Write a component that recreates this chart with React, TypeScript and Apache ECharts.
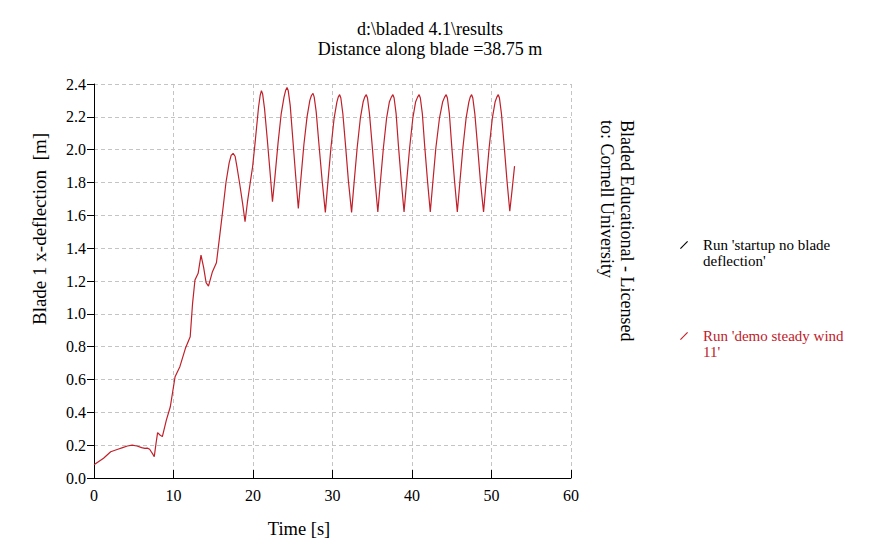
import React, { useEffect, useRef } from "react";
import * as echarts from "echarts";

const titleLines = ["d:\\bladed 4.1\\results", "Distance along blade =38.75 m"];
const xAxisName = "Time [s]";
const yAxisName = "Blade 1 x-deflection  [m]";
const licenseLines = ["Bladed Educational - Licensed", "to: Cornell University"];
const seriesNames = ["Run 'startup no blade deflection'", "Run 'demo steady wind 11'"];
const legendLabels = ["Run 'startup no blade\ndeflection'", "Run 'demo steady wind\n11'"];

const xTicks = [0, 10, 20, 30, 40, 50, 60];
const yTicks = [0, 0.2, 0.4, 0.6, 0.8, 1.0, 1.2, 1.4, 1.6, 1.8, 2.0, 2.2, 2.4];

// Run 'startup no blade deflection' — no visible trace in the reference
const startupTime: number[] = [];
const startupDefl: number[] = [];

// Run 'demo steady wind 11'
const demoTime = [
  0.0, 0.6, 1.2, 2.1, 3.0, 3.6, 4.2, 4.8, 5.4, 6.0, 6.4, 6.7, 7.0, 7.2, 7.4, 7.58,
  7.8, 8.0, 8.3, 8.6, 9.1, 9.6, 10.2, 10.8, 11.5, 12.1, 12.4, 12.7, 13.1, 13.46,
  13.8, 14.1, 14.4, 14.9, 15.4, 15.85, 16.25, 16.6, 17.0, 17.25, 17.5, 17.75, 18.0, 18.3, 18.7,
  19.0, 19.3, 19.7, 19.95, 20.3, 20.7, 20.9,
  21.06, 21.21, 21.45, 21.8, 22.15, 22.45, 22.75, 23.15, 23.55, 23.9, 24.1,
  24.28, 24.43, 24.68, 25.0, 25.35, 25.7, 26.0, 26.4, 26.8, 27.15, 27.35,
  27.55, 27.7, 27.95, 28.3, 28.7, 29.1, 29.4, 29.8, 30.2, 30.55, 30.72,
  30.9, 31.05, 31.3, 31.65, 32.0, 32.4, 32.7, 33.1, 33.5, 33.85, 34.05,
  34.25, 34.4, 34.65, 35.0, 35.35, 35.7, 36.0, 36.4, 36.8, 37.15, 37.4,
  37.6, 37.75, 38.0, 38.3, 38.65, 39.0, 39.3, 39.7, 40.1, 40.45, 40.7,
  40.9, 41.05, 41.3, 41.6, 41.95, 42.3, 42.6, 43.0, 43.45, 43.85, 44.1,
  44.3, 44.45, 44.7, 45.0, 45.35, 45.7, 46.0, 46.4, 46.8, 47.15, 47.32,
  47.5, 47.65, 47.9, 48.25, 48.6, 49.0, 49.3, 49.7, 50.1, 50.45, 50.67,
  50.85, 51.0, 51.25, 51.6, 51.95, 52.3, 52.6, 52.9,
];
const demoDefl = [
  0.08, 0.1, 0.12, 0.16, 0.175, 0.185, 0.195, 0.2, 0.195, 0.185, 0.18, 0.182, 0.175, 0.16, 0.145, 0.13,
  0.21, 0.276, 0.262, 0.252, 0.353, 0.434, 0.617, 0.678, 0.79, 0.86, 1.064, 1.206, 1.247, 1.358,
  1.28, 1.19, 1.169, 1.257, 1.311, 1.49, 1.652, 1.8, 1.92, 1.965, 1.977, 1.96, 1.89, 1.8, 1.67,
  1.561, 1.68, 1.815, 1.896, 2.06, 2.26, 2.33,
  2.359, 2.34, 2.25, 2.06, 1.86, 1.683, 1.83, 2.04, 2.22, 2.32, 2.36,
  2.379, 2.36, 2.27, 2.07, 1.85, 1.642, 1.81, 2.03, 2.2, 2.3, 2.33,
  2.343, 2.32, 2.23, 2.03, 1.81, 1.618, 1.79, 2.01, 2.19, 2.29, 2.32,
  2.335, 2.315, 2.22, 2.02, 1.81, 1.618, 1.79, 2.01, 2.19, 2.29, 2.32,
  2.335, 2.315, 2.22, 2.02, 1.81, 1.62, 1.79, 2.01, 2.19, 2.29, 2.32,
  2.335, 2.315, 2.22, 2.02, 1.81, 1.62, 1.79, 2.01, 2.19, 2.29, 2.32,
  2.335, 2.315, 2.22, 2.02, 1.81, 1.62, 1.79, 2.01, 2.19, 2.29, 2.32,
  2.335, 2.315, 2.22, 2.02, 1.81, 1.62, 1.79, 2.01, 2.19, 2.29, 2.32,
  2.335, 2.315, 2.22, 2.02, 1.81, 1.62, 1.79, 2.01, 2.19, 2.29, 2.32,
  2.335, 2.315, 2.22, 2.02, 1.81, 1.625, 1.76, 1.9,
];

const FONT = "Liberation Serif";
const RED = "#c0202a";
const BLACK = "#000000";

export default function App() {
  const ref = useRef<HTMLDivElement>(null);

  useEffect(() => {
    if (!ref.current) return;
    const chart = echarts.init(ref.current, undefined, { renderer: "svg" });
    const demoData = demoTime.map((t, i) => [t, demoDefl[i]]);
    const startupData = startupTime.map((t, i) => [t, startupDefl[i]]);
    const legendText = { fontFamily: FONT, fontSize: 15, lineHeight: 16, padding: [0, 0, 0, 10] };

    chart.setOption({
      animation: false,
      backgroundColor: "#ffffff",
      textStyle: { fontFamily: FONT },
      title: {
        text: titleLines.join("\n"),
        left: 430,
        top: 19,
        textAlign: "center",
        padding: 0,
        textStyle: {
          fontFamily: FONT,
          fontSize: 18,
          fontWeight: "normal",
          color: BLACK,
          lineHeight: 20,
        },
      },
      grid: { left: 94, right: 308, top: 84, bottom: 60, containLabel: false },
      xAxis: {
        type: "value",
        min: xTicks[0],
        max: xTicks[xTicks.length - 1],
        interval: 10,
        axisLine: { show: true, lineStyle: { color: BLACK, width: 1 } },
        axisTick: { show: true, inside: true, length: 8, lineStyle: { color: BLACK } },
        axisLabel: { color: BLACK, fontSize: 16, fontFamily: FONT, margin: 9 },
        splitLine: { show: true, lineStyle: { color: "#c4c4c4", type: [4, 3], width: 1 } },
      },
      yAxis: {
        type: "value",
        min: yTicks[0],
        max: yTicks[yTicks.length - 1],
        interval: 0.2,
        axisLine: { show: true, lineStyle: { color: BLACK, width: 1 } },
        axisTick: { show: true, inside: false, length: 7, lineStyle: { color: BLACK } },
        axisLabel: {
          color: BLACK,
          fontSize: 16,
          fontFamily: FONT,
          margin: 8,
          formatter: (v: number) => v.toFixed(1),
        },
        splitLine: { show: true, lineStyle: { color: "#c4c4c4", type: [4, 3], width: 1 } },
      },
      legend: {
        orient: "vertical",
        left: 680,
        top: 221,
        padding: 0,
        itemGap: 43,
        itemWidth: 8,
        itemHeight: 8,
        icon: "path://M0,9 L9,0 L10,1 L1,10 Z",
        formatter: (name: string) => "\n" + legendLabels[seriesNames.indexOf(name)],
        textStyle: legendText,
        data: [
          { name: seriesNames[0], textStyle: { ...legendText, color: BLACK } },
          { name: seriesNames[1], textStyle: { ...legendText, color: RED } },
        ],
      },
      graphic: [
        {
          type: "text",
          x: 39,
          y: 229,
          rotation: Math.PI / 2,
          style: {
            text: yAxisName,
            fontFamily: FONT,
            fontSize: 19,
            fill: BLACK,
            align: "center",
            verticalAlign: "middle",
          },
        },
        {
          type: "text",
          x: 299,
          y: 529,
          style: {
            text: xAxisName,
            fontFamily: FONT,
            fontSize: 18.5,
            fill: BLACK,
            align: "center",
            verticalAlign: "middle",
          },
        },
        {
          type: "text",
          x: 616.5,
          y: 120,
          rotation: -Math.PI / 2,
          style: {
            text: licenseLines.join("\n"),
            fontFamily: FONT,
            fontSize: 18,
            lineHeight: 20,
            fill: BLACK,
            align: "left",
            verticalAlign: "middle",
          },
        },
      ],
      series: [
        {
          name: seriesNames[0],
          type: "line",
          data: startupData,
          showSymbol: false,
          symbol: "none",
          color: BLACK,
          lineStyle: { color: BLACK, width: 1 },
        },
        {
          name: seriesNames[1],
          type: "line",
          data: demoData,
          showSymbol: false,
          symbol: "none",
          smooth: false,
          color: RED,
          lineStyle: { color: RED, width: 1.2 },
        },
      ],
    });

    return () => chart.dispose();
  }, []);

  return (
    <div
      ref={ref}
      style={{ position: "absolute", left: 0, top: 0, width: 879, height: 538 }}
    />
  );
}
